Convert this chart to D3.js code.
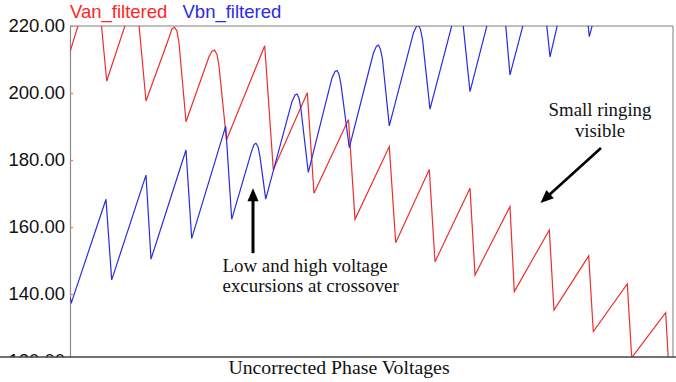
<!DOCTYPE html>
<html><head><meta charset="utf-8">
<script src="https://cdnjs.cloudflare.com/ajax/libs/d3/7.8.5/d3.min.js"></script>
<style>body{margin:0;background:#fff}svg{display:block}</style>
</head><body><svg id="c" width="676" height="382"></svg>
<script>
// sample index along the time axis
const vanT = [0,26,36.7,66,76,99,102,104.5,107,109,116,139,142,144.5,147,149,156.5,194.7,203.3,237.3,244,278.5,285,319.3,325.7,359.3,365,400,405,440,444.3,479.3,484,518.7,523.3,557.3,561.7,595.7,599.3,603];
const vanV = [212.3,237.5,203.6,230,197.6,216.5,219.2,219.6,218.5,215,191.4,210.8,212.5,212.8,211.5,208,186,214.1,177.1,200.1,170.1,192.1,162.3,184,155.3,177.2,149.6,171.6,145.7,166.1,140.7,159.1,135.2,151.4,128.8,143,121,134.4,115,112];
const vbnT = [0,1.5,36,41.7,76,81,116,121.7,155.7,161.7,181.5,184,186,188,190,195.7,222,225,227,229,231,238.3,262,265,267,269,271,279.3,303.5,306.5,308.5,310.5,312.5,319.3,343.5,346.5,348.5,350.5,352.5,360,390,400,431,440,470,480,509,519.3,550,560,590,600,603];
const vbnV = [139,137.5,168.3,144.2,175.5,150.4,183,156.6,190.1,162.3,182.5,184.6,185,184,181,168.3,197.5,199.4,199.7,198.5,195,176.3,204.5,206.4,206.7,205.6,202.5,183.7,212,214,214.3,213,210,190.2,218,219.9,220.2,219,216,195.2,229.5,200.4,236.5,205.4,239.6,210.8,248,216.8,252,228,258,236,240];
const yTicks = [120,140,160,180,200,220];
const seriesNames = ["Van_filtered","Vbn_filtered"];
const title = "Uncorrected Phase Voltages";

const svg = d3.select("#c");
const W = 676, H = 382;
const x = d3.scaleLinear().domain([0,603]).range([70,673]);
const y = d3.scaleLinear().domain([120,220]).range([361,26]);
const sans = "'Liberation Sans', Arial, sans-serif";
const serif = "'Liberation Serif', 'Times New Roman', serif";

svg.append("rect").attr("width",W).attr("height",H).attr("fill","#fff");

svg.append("defs").append("clipPath").attr("id","pc")
  .append("rect").attr("x",70).attr("y",26).attr("width",603).attr("height",331);

// frame
svg.append("line").attr("x1",70).attr("x2",673).attr("y1",26).attr("y2",26).attr("stroke","#a8a8a8").attr("stroke-width",1.5);
svg.append("line").attr("x1",673).attr("x2",673).attr("y1",26).attr("y2",357).attr("stroke","#a8a8a8").attr("stroke-width",1.5);

// y axis
const ax = svg.append("g").attr("transform","translate(70,0)")
  .call(d3.axisLeft(y).tickValues(yTicks).tickFormat(d3.format(".2f")).tickSizeInner(-3).tickSizeOuter(0).tickPadding(5));
ax.select(".domain").attr("stroke","#8a8a8a").attr("stroke-width",1.2);
ax.selectAll(".tick line").attr("stroke","#e07a8a").attr("stroke-width",1.2);
ax.selectAll(".tick text").attr("font-family",sans).attr("font-size",18.5).attr("fill","#111");

// lines
const g = svg.append("g").attr("clip-path","url(#pc)");
const line = d3.line().x(d=>x(d[0])).y(d=>y(d[1]));
g.append("path").datum(d3.zip(vanT,vanV)).attr("d",line).attr("fill","none").attr("stroke","#ee2e2e").attr("stroke-width",1.2);
g.append("path").datum(d3.zip(vbnT,vbnV)).attr("d",line).attr("fill","none").attr("stroke","#2a2ae0").attr("stroke-width",1.2);

// bottom area
svg.append("rect").attr("x",0).attr("y",357.5).attr("width",W).attr("height",H-357.5).attr("fill","#fff");
svg.append("line").attr("x1",0).attr("x2",W).attr("y1",357).attr("y2",357).attr("stroke","#444").attr("stroke-width",1.6);
svg.append("text").attr("x",339).attr("y",374).attr("text-anchor","middle")
  .attr("font-family",serif).attr("font-size",19.8).attr("fill","#111").text(title);

// legend
svg.append("text").attr("x",70).attr("y",17.5).attr("font-family",sans).attr("font-size",18.5).attr("fill","#ff2424").text(seriesNames[0]);
svg.append("text").attr("x",182.5).attr("y",17.5).attr("font-family",sans).attr("font-size",18.5).attr("fill","#2a2ae8").text(seriesNames[1]);

// annotations
function arrow(x1,y1,x2,y2,w,hl,hw){
  const dx=x2-x1, dy=y2-y1, L=Math.hypot(dx,dy), ux=dx/L, uy=dy/L;
  const bx=x2-ux*hl, by=y2-uy*hl;
  svg.append("line").attr("x1",x1).attr("y1",y1).attr("x2",bx+ux*1).attr("y2",by+uy*1).attr("stroke","#000").attr("stroke-width",w);
  svg.append("path").attr("d",`M${x2},${y2}L${bx-uy*hw},${by+ux*hw}L${bx+uy*hw},${by-ux*hw}Z`).attr("fill","#000");
}
arrow(x(183),y(152.2),x(183),y(171.6),3,13,5.5);
arrow(x(531),y(183.6),x(470.5),y(167.2),2.6,13,5.5);

const ann = svg.append("g").attr("font-family",serif).attr("fill","#111");
ann.append("text").attr("x",222.5).attr("y",271.5).attr("font-size",18.9).text("Low and high voltage");
ann.append("text").attr("x",222.5).attr("y",292).attr("font-size",18.9).text("excursions at crossover");
ann.append("text").attr("x",600).attr("y",116).attr("text-anchor","middle").attr("font-size",18.8).text("Small ringing");
ann.append("text").attr("x",600).attr("y",136.5).attr("text-anchor","middle").attr("font-size",18.8).text("visible");
</script></body></html>
